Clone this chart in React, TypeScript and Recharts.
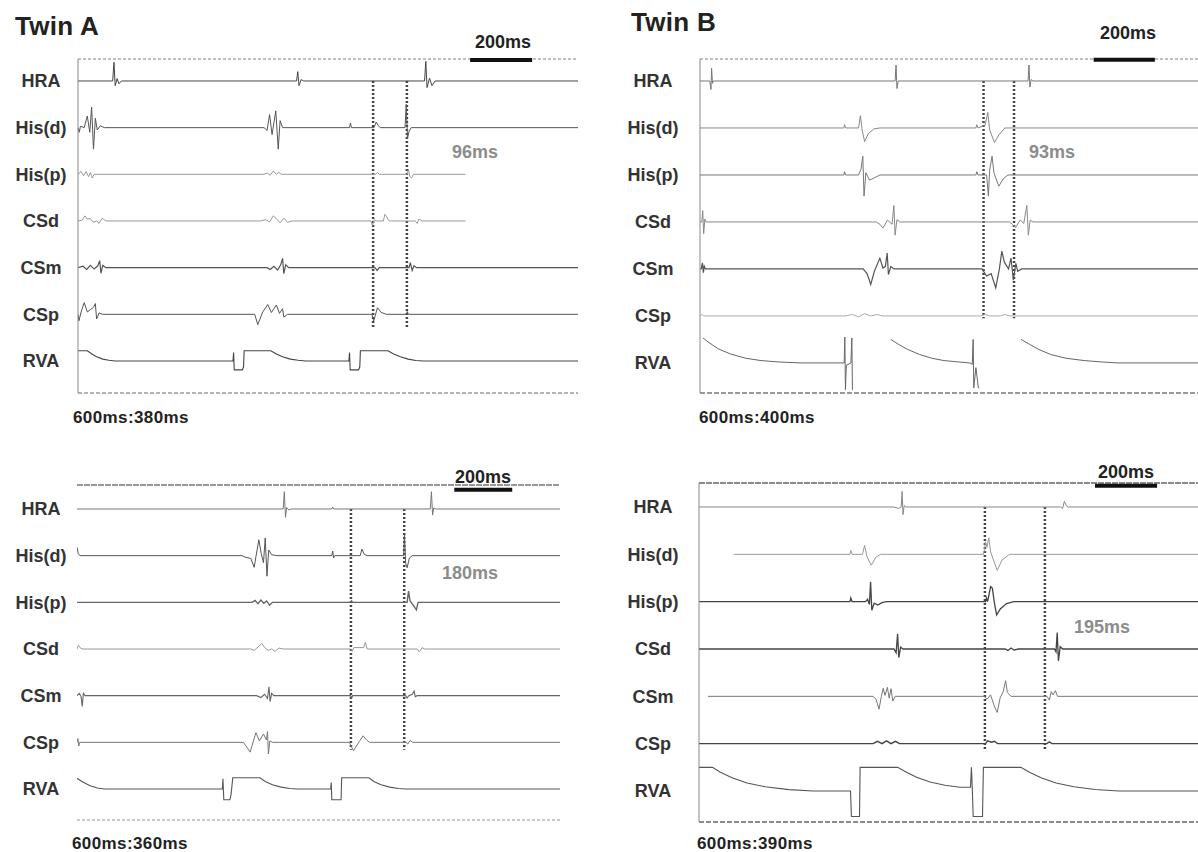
import { LineChart, Line, XAxis, YAxis, ReferenceLine } from "recharts"

type Pt = [number, number | null]

const channels = ["HRA", "His(d)", "His(p)", "CSd", "CSm", "CSp", "RVA"]

// ---- Twin A, 600ms:380ms (time in ms, amplitude in arbitrary units) ----
const a380HRA: Pt[] = [[0, 0], [112, 0], [116, 4], [120, -1], [126, 0.5], [132, -0.6], [140, 0], [705, 0], [709, 2], [713, -1], [720, 0.3], [728, 0], [1118, 0], [1122, 4.2], [1126, -1.4], [1134, 0.6], [1142, -1], [1152, 0], [1613, 0]]
const a380HisD: Pt[] = [[0, 0], [4, -1], [8, 0.3], [20, 0], [30, 2.5], [38, -1], [44, 4.4], [50, -4.6], [56, 2], [62, -0.5], [72, 0.4], [85, 0], [600, 0], [610, -0.6], [618, 2.8], [626, -1.5], [638, 3.6], [646, -4.6], [652, 1.5], [660, 0], [876, 0], [879, 1], [882, 0], [955, 0], [962, 1.2], [968, 0.5], [975, 0], [1055, 0], [1059, 5], [1063, -2.3], [1068, -0.8], [1075, 0], [1613, 0]]
const a380HisP: Pt[] = [[0, 0], [10, 0.6], [18, -0.3], [26, 0.6], [34, -0.5], [40, 0.4], [46, -0.8], [52, 0], [600, 0], [610, 0.3], [620, -0.2], [630, 0.7], [640, 0], [648, 0.4], [656, 0], [960, 0], [966, 0.4], [972, 0], [1062, 0], [1066, 1.1], [1070, -0.4], [1076, -0.8], [1082, 0], [1250, 0]]
const a380CSd: Pt[] = [[0, 0], [14, 0.2], [22, 1.1], [30, 0.4], [40, 0.5], [50, -0.3], [60, 0], [68, -0.5], [78, 0.6], [90, 0], [590, 0], [605, 0.3], [618, -0.2], [630, 1.1], [640, 0.5], [652, -0.4], [664, 0.6], [676, -0.3], [690, 0], [945, 0], [950, -1], [956, 0.3], [962, 0], [985, 0], [990, 1.4], [995, 1], [1000, 0.3], [1006, 0], [1088, 0], [1094, -0.5], [1100, 0.4], [1110, 0], [1250, 0]]
const a380CSm: Pt[] = [[0, 0], [16, 0.3], [28, -0.4], [40, 0.5], [52, -0.3], [64, 0.4], [70, 1.5], [74, -1.2], [80, 0.5], [90, 0], [610, 0], [620, -0.4], [632, 0.3], [644, -0.5], [654, 0.6], [660, 2], [664, -1.3], [670, 0.6], [680, 0], [958, 0], [965, -0.6], [972, 0], [1068, 0], [1072, 1.1], [1078, -0.6], [1084, 0.4], [1092, 0], [1613, 0]]
const a380CSp: Pt[] = [[0, 0], [3, -1.4], [10, 0.5], [20, 2.5], [30, 0.5], [40, 1], [50, 1.5], [56, 2.3], [60, -1], [68, 0.3], [80, 0], [570, 0], [580, -2.2], [596, 0.5], [612, 2.1], [624, 0.4], [640, 2], [650, 0.2], [660, 1.2], [664, -0.6], [676, 0], [948, 0], [954, -1.4], [966, 1.4], [978, 0.4], [995, 0], [1060, 0], [1062, 0.6], [1066, 0], [1613, 0]]
const a380RVA: Pt[] = [[0, 2.2], [30, 2.2], [45, 1.5], [60, 0.9], [80, 0.4], [100, 0.15], [120, 0], [500, 0], [502, 1.8], [504, -1.9], [530, -1.9], [534, -1.3], [536, 2.2], [622, 2.2], [640, 1.5], [660, 0.9], [685, 0.4], [710, 0.15], [735, 0], [874, 0], [876, 1.8], [878, -1.9], [905, -1.9], [909, -1.3], [911, 2.2], [1000, 2.2], [1018, 1.5], [1040, 0.9], [1065, 0.4], [1090, 0.1], [1115, 0], [1613, 0]]
const a380Markers = [952, 1061]
const a380Scale = [1265, 1465]

// ---- Twin B, 600ms:400ms ----
const b400HRA: Pt[] = [[0, 0], [32, 0], [36, -1.8], [38, 2.7], [41, -0.5], [44, 0], [640, 0], [643, 3.4], [646, -1.6], [650, 0], [1076, 0], [1079, 3.4], [1082, -1.3], [1086, 0.3], [1092, 0], [1640, 0]]
const b400HisD: Pt[] = [[0, 0], [472, 0], [474, 0.7], [478, 0], [520, 0], [526, 2.6], [532, -0.5], [540, -2.9], [552, -1.2], [570, -0.2], [590, 0], [905, 0], [908, 0.7], [912, 0], [935, 0.6], [944, 3.3], [950, -0.4], [966, -3.1], [980, -1.5], [1000, 0], [1640, 0]]
const b400HisP: Pt[] = [[0, 0], [472, 0], [474, 0.7], [478, 0], [520, 0], [528, 1.2], [534, 4], [538, -4.5], [544, 0.5], [556, -1.1], [572, -0.6], [590, 0], [905, 0], [908, 0.7], [912, 0], [940, 0], [946, -4.5], [950, 1], [958, 4], [964, 0.5], [980, -2.4], [995, -0.8], [1010, 0], [1640, 0]]
const b400CSd: Pt[] = [[0, 0], [6, 0], [9, 2.4], [12, -2.5], [16, 0.6], [20, 0], [578, 0], [590, -0.5], [600, -1.3], [615, 0.4], [630, -0.5], [636, 3.5], [640, -2.8], [646, 0.5], [655, 0], [1015, 0], [1025, -0.5], [1035, -1.2], [1050, 0.4], [1062, -0.3], [1072, 3.5], [1077, -2.8], [1083, 0.4], [1092, 0], [1640, 0]]
const b400CSm: Pt[] = [[0, 0], [4, 0], [8, 1.3], [11, -0.8], [14, 0.6], [18, 0], [535, 0], [548, -1], [560, -3.3], [572, -0.5], [590, 2.3], [600, 0.2], [608, 0.5], [614, 3.4], [618, -1.2], [626, 0.5], [636, 0], [925, 0], [940, -1.5], [955, -1], [970, -4], [982, 0], [990, 3.8], [998, 1.5], [1012, 0], [1020, 2.3], [1028, -2.4], [1036, 1.2], [1042, -0.5], [1055, 0], [1640, 0]]
const b400CSp: Pt[] = [[0, 0], [6, 0.3], [12, 0], [475, 0], [500, 0.3], [520, -0.2], [540, 0.5], [560, 0], [580, 0.3], [600, 0], [920, 0], [935, 0.3], [950, 0], [985, 0], [1000, 0.3], [1015, 0], [1640, 0]]
const b400RVA: Pt[] = [[10, 5.3], [30, 4.3], [60, 3], [100, 1.9], [150, 1], [200, 0.5], [260, 0.2], [330, 0], [473, 0], [475, 5.5], [477, -5.7], [480, -0.5], [495, 0], [498, 5.3], [500, -5.7], [502, -5.7], [503, null], [626, 5], [650, 4], [680, 2.9], [720, 1.8], [760, 1], [800, 0.5], [850, 0.2], [885, 0], [893, -0.3], [896, 5], [898, -5.3], [905, -1], [913, -5.3], [916, -5.3], [917, null], [1053, 5], [1080, 4], [1110, 2.9], [1150, 1.8], [1200, 1], [1260, 0.5], [1320, 0.2], [1370, 0], [1640, 0]]
const b400Markers = [930, 1030]
const b400Scale = [1291, 1492]

// ---- Twin A, 600ms:360ms ----
const a360HRA: Pt[] = [[0, 0], [712, 0], [716, 3.7], [720, -1.8], [724, 0.3], [732, -0.2], [740, 0], [880, 0], [883, 0.4], [886, 0], [1220, 0], [1224, 3.7], [1228, -1.3], [1232, 0.2], [1240, 0], [1668, 0]]
const a360HisD: Pt[] = [[0, 1.8], [4, 0.5], [10, 0], [570, 0], [580, -0.3], [600, -0.6], [612, -2.5], [618, -0.2], [628, 3.4], [636, 0.5], [644, -1.5], [650, 3.8], [656, -4.4], [662, 1.2], [672, 0.2], [690, 0], [880, 0], [883, 1], [886, -0.5], [890, 0], [978, 0], [984, 1.4], [992, 0.3], [1002, 0], [1128, 0], [1131, 4.5], [1135, -1.6], [1140, -2.6], [1148, -0.5], [1158, 0], [1668, 0]]
const a360HisP: Pt[] = [[0, 0], [605, 0], [615, 0.4], [625, -0.3], [635, 0.5], [645, -0.2], [655, 0.3], [665, -0.6], [675, 0], [945, 0], [948, 0.3], [952, 0], [1140, 0], [1145, 2.4], [1150, 0.3], [1160, -0.5], [1172, -1.6], [1178, 0], [1668, 0]]
const a360CSd: Pt[] = [[0, 0], [5, 0.8], [12, 0.2], [20, 0], [600, 0], [612, -0.3], [628, 0.6], [638, 1.2], [648, 0.3], [660, -0.3], [672, 0], [684, -0.5], [698, 0.2], [712, 0], [945, 0], [950, -0.5], [956, 0.3], [990, 0.3], [996, 1.4], [1002, 0], [1175, 0], [1182, -0.6], [1192, 0.3], [1200, 0], [1668, 0]]
const a360CSm: Pt[] = [[0, 0], [8, 0.5], [14, -0.2], [18, -2.3], [22, 0.5], [28, 0], [620, 0], [635, -0.4], [648, 0.3], [658, -0.6], [663, 1.9], [667, -1.3], [672, 0.5], [680, 0], [945, 0], [948, -0.5], [952, 0], [1135, 0], [1140, -0.5], [1146, 0], [1158, 0.3], [1164, 1], [1168, -0.2], [1175, 0], [1668, 0]]
const a360CSp: Pt[] = [[0, 0], [3, 0.8], [6, -0.8], [9, 0], [575, 0], [598, -2.1], [618, 2.1], [630, 0.3], [644, 1.8], [654, 0.5], [658, 2.3], [661, -2.5], [666, 0.3], [676, 0], [940, 0], [955, -1.8], [975, 0.2], [988, 1.4], [1000, 0.5], [1010, 0], [1138, 0], [1142, -0.4], [1150, 0.4], [1160, 0], [1668, 0]]
const a360RVA: Pt[] = [[0, 2.3], [20, 1.5], [45, 0.7], [70, 0.2], [95, 0], [502, 0], [504, 2.2], [507, -2.3], [528, -2.3], [532, -1.2], [538, 2.4], [632, 2.4], [650, 1.6], [675, 0.9], [705, 0.4], [735, 0.1], [760, 0], [876, 0], [878, 1.4], [880, -2.3], [912, -2.3], [914, 2.4], [1008, 2.4], [1025, 1.6], [1050, 0.9], [1080, 0.4], [1110, 0.1], [1135, 0], [1668, 0]]
const a360Markers = [946, 1130]
const a360Scale = [1303, 1503]

// ---- Twin B, 600ms:390ms ----
const b390HRA: Pt[] = [[0, 0], [650, 0], [665, -0.3], [674, 0], [677, 3.3], [680, -1.6], [684, 0.3], [690, 0], [1205, 0], [1212, -0.3], [1218, 1.2], [1224, 0.3], [1230, 0], [1670, 0]]
const b390HisD: Pt[] = [[116, 0], [503, 0], [506, 0.8], [510, 0], [545, 0], [552, 1.9], [560, -0.5], [574, -2.3], [590, -0.6], [605, 0], [948, 0], [951, 0.8], [955, 2.6], [960, 1.5], [966, 3.5], [972, 0.5], [994, -3.4], [1010, -1.2], [1035, 0], [1670, 0]]
const b390HisP: Pt[] = [[0, 0], [503, 0], [506, 0.8], [510, 0], [555, 0], [562, 0.5], [568, -0.6], [572, 4.2], [576, -1.8], [584, -0.3], [596, -0.7], [610, -0.2], [625, 0], [955, 0], [958, 0.8], [962, 0], [972, 3.2], [978, 2.8], [984, 0], [992, -2.8], [1005, -1.5], [1025, -0.4], [1050, 0], [1670, 0]]
const b390CSd: Pt[] = [[0, 0], [650, 0], [657, -0.8], [662, 3.2], [666, -1.8], [672, 0.4], [680, 0], [1020, 0], [1030, -0.3], [1040, 0.2], [1050, -0.2], [1065, 0], [1185, 0], [1190, -0.6], [1194, 3.5], [1198, -2.5], [1204, 0.5], [1212, 0], [1670, 0]]
const b390CSm: Pt[] = [[30, 0], [580, 0], [590, -0.6], [600, -2.7], [608, 0], [614, 1.7], [620, 0.2], [628, 1.9], [634, -0.4], [640, 1.6], [646, -1], [654, 0], [950, 0], [960, -0.6], [972, 0.3], [984, -2], [994, -3.4], [1004, -0.3], [1014, 1], [1022, 3.3], [1028, 0.8], [1040, 0], [1160, 0], [1168, -0.8], [1174, 1], [1180, 0.3], [1188, 1.2], [1195, 0], [1670, 0]]
const b390CSp: Pt[] = [[0, 0], [580, 0], [595, 0.5], [610, 0], [625, 0.6], [640, 0], [655, 0.5], [668, 0], [955, 0], [962, 0.6], [975, 0.3], [985, 0.5], [995, 0], [1160, 0], [1168, 0.4], [1176, 0], [1670, 0]]
const b390RVA: Pt[] = [[0, 5], [45, 5], [70, 4], [110, 2.8], [160, 1.7], [220, 0.9], [300, 0.3], [380, 0], [505, 0], [508, -5.4], [535, -5.4], [537, 5], [662, 5], [690, 4], [725, 2.9], [770, 1.9], [820, 1.2], [870, 0.8], [905, 0.8], [908, 5], [911, 0.5], [914, -5.4], [945, -5.4], [948, 5], [1073, 5], [1100, 4], [1140, 2.8], [1190, 1.7], [1250, 0.9], [1320, 0.3], [1400, 0], [1670, 0]]
const b390Markers = [953, 1153]
const b390Scale = [1320, 1527]

const GAP = 10
const FONT = "'Liberation Sans', Arial, Helvetica, sans-serif"

const panels = [
  {
    id: "a380", traces: [a380HRA, a380HisD, a380HisP, a380CSd, a380CSm, a380CSp, a380RVA],
    markers: a380Markers, scale: a380Scale, span: 1613,
    left: 0, plotLeft: 78, plotRight: 578, plotTop: 59, plotBottom: 393, yMax: 4.71, yMin: -66.86,
    labelX: 41, axis: true, dashEnd: -52.9, barY: 4.5,
    colors: ["#444", "#555", "#9a9a9a", "#999", "#555", "#555", "#444"],
    widths: [1, 1, 1, 1, 1.2, 1, 1.1],
    topLine: { stroke: "#aaa", dash: "3 2" }, bottomLine: { stroke: "#999", dash: "4 2" },
  },
  {
    id: "b400", traces: [b400HRA, b400HisD, b400HisP, b400CSd, b400CSm, b400CSp, b400RVA],
    markers: b400Markers, scale: b400Scale, span: 1640,
    left: 600, plotLeft: 700, plotRight: 1200, plotTop: 59, plotBottom: 393, yMax: 4.68, yMin: -66.4,
    labelX: 653, axis: true, dashEnd: -50.5, barY: 4.5,
    colors: ["#777", "#888", "#777", "#888", "#555", "#aaa", "#666"],
    widths: [1, 1, 1, 1, 1.2, 1, 1],
    topLine: { stroke: "#aaa", dash: "3 2" }, bottomLine: { stroke: "#777", dash: "5 2" },
  },
  {
    id: "a360", traces: [a360HRA, a360HisD, a360HisP, a360CSd, a360CSm, a360CSp, a360RVA],
    markers: a360Markers, scale: a360Scale, span: 1668,
    left: 0, plotLeft: 77, plotRight: 560, plotTop: 485, plotBottom: 820, yMax: 5.14, yMin: -66.64,
    labelX: 41, axis: false, dashEnd: -51.6, barY: 4.1,
    colors: ["#777", "#555", "#666", "#999", "#666", "#777", "#555"],
    widths: [1, 1, 1.4, 1, 1.1, 1, 1.1],
    topLine: { stroke: "#777", dash: "6 1" }, bottomLine: { stroke: "#bbb", dash: "3 2" },
  },
  {
    id: "b390", traces: [b390HRA, b390HisD, b390HisP, b390CSd, b390CSm, b390CSp, b390RVA],
    markers: b390Markers, scale: b390Scale, span: 1670,
    left: 600, plotLeft: 699, plotRight: 1200, plotTop: 483, plotBottom: 822, yMax: 5.07, yMin: -66.55,
    labelX: 653, axis: true, dashEnd: -51.3, barY: 4.5,
    colors: ["#888", "#999", "#444", "#444", "#777", "#444", "#555"],
    widths: [1, 1, 1.3, 1.3, 1, 1.4, 1.1],
    topLine: { stroke: "#666", dash: "6 1" }, bottomLine: { stroke: "#666", dash: "5 2" },
  },
]

const texts = [
  { text: "Twin A", x: 15, y: 26, size: 26, color: "#222", anchor: "start", spacing: 0.3 },
  { text: "Twin B", x: 631, y: 22, size: 26, color: "#222", anchor: "start", spacing: 0.3 },
  { text: "200ms", x: 503, y: 42, size: 18, color: "#222", anchor: "middle", spacing: 0 },
  { text: "200ms", x: 1128, y: 33, size: 18, color: "#222", anchor: "middle", spacing: 0 },
  { text: "200ms", x: 483, y: 477, size: 18, color: "#222", anchor: "middle", spacing: 0 },
  { text: "200ms", x: 1126, y: 472, size: 18, color: "#222", anchor: "middle", spacing: 0 },
  { text: "96ms", x: 475, y: 152, size: 18, color: "#8c8c8c", anchor: "middle", spacing: 0 },
  { text: "93ms", x: 1052, y: 152, size: 18, color: "#8c8c8c", anchor: "middle", spacing: 0 },
  { text: "180ms", x: 470, y: 573, size: 18, color: "#8c8c8c", anchor: "middle", spacing: 0 },
  { text: "195ms", x: 1102, y: 627, size: 18, color: "#8c8c8c", anchor: "middle", spacing: 0 },
  { text: "600ms:380ms", x: 73, y: 417, size: 17, color: "#222", anchor: "start", spacing: 0.4 },
  { text: "600ms:400ms", x: 699, y: 417, size: 17, color: "#222", anchor: "start", spacing: 0.4 },
  { text: "600ms:360ms", x: 72, y: 843, size: 17, color: "#222", anchor: "start", spacing: 0.4 },
  { text: "600ms:390ms", x: 697, y: 843, size: 17, color: "#222", anchor: "start", spacing: 0.4 },
]

function Panel({ p }: any) {
  const ticks = channels.map((_, i) => -i * GAP)
  const labelX = p.labelX - p.left
  const renderTick = (props: any) => {
    const idx = Math.round(-props.payload.value / GAP)
    return (
      <text x={labelX} y={props.y} dy="0.36em" textAnchor="middle" fontSize={18} fontWeight="bold" fill="#333" fontFamily={FONT}>
        {channels[idx]}
      </text>
    )
  }
  return (
    <div style={{ position: "absolute", left: p.left, top: p.plotTop - 10 }}>
      <LineChart
        width={p.plotRight - p.left + 10}
        height={p.plotBottom - p.plotTop + 20}
        margin={{ top: 10, right: 10, bottom: 10, left: 0 }}
      >
        <XAxis type="number" dataKey="t" domain={[0, p.span]} allowDataOverflow hide />
        <YAxis
          type="number"
          domain={[p.yMin, p.yMax]}
          ticks={ticks}
          interval={0}
          width={p.plotLeft - p.left}
          allowDataOverflow
          axisLine={p.axis ? { stroke: "#888", strokeWidth: 1 } : false}
          tickLine={false}
          tick={renderTick}
        />
        <ReferenceLine y={p.yMax} stroke={p.topLine.stroke} strokeDasharray={p.topLine.dash} strokeWidth={1.5} />
        <ReferenceLine y={p.yMin} stroke={p.bottomLine.stroke} strokeDasharray={p.bottomLine.dash} strokeWidth={1.5} />
        <ReferenceLine
          segment={[{ x: p.scale[0], y: p.barY }, { x: p.scale[1], y: p.barY }]}
          stroke="#111"
          strokeWidth={4}
        />
        {p.markers.map((t: number) => (
          <ReferenceLine
            key={`m${t}`}
            segment={[{ x: t, y: 0 }, { x: t, y: p.dashEnd }]}
            stroke="#444"
            strokeWidth={2.5}
            strokeDasharray="2 2"
          />
        ))}
        {p.traces.map((pts: Pt[], i: number) => (
          <Line
            key={`${p.id}-${channels[i]}`}
            name={channels[i]}
            data={pts.map(([t, a]) => ({ t, v: a === null ? null : a - i * GAP }))}
            dataKey="v"
            type="linear"
            dot={false}
            stroke={p.colors[i]}
            strokeWidth={p.widths[i]}
            isAnimationActive={false}
          />
        ))}
      </LineChart>
    </div>
  )
}

export default function App() {
  return (
    <div style={{ position: "fixed", left: 0, top: 0, width: 1198, height: 852, overflow: "hidden", background: "#fff", fontFamily: FONT }}>
      {panels.map((p) => (
        <Panel key={p.id} p={p} />
      ))}
      {texts.map((t, i) => (
        <div
          key={i}
          style={{
            position: "absolute",
            left: t.x,
            top: t.y,
            transform: t.anchor === "middle" ? "translate(-50%, -50%)" : "translate(0, -50%)",
            fontSize: t.size,
            fontWeight: "bold",
            color: t.color,
            lineHeight: 1,
            letterSpacing: t.spacing,
            whiteSpace: "nowrap",
          }}
        >
          {t.text}
        </div>
      ))}
    </div>
  )
}
